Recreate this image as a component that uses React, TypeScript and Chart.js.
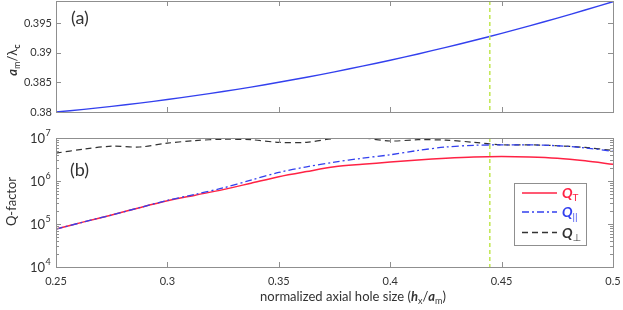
import React, { useEffect, useRef } from 'react';
import { Chart, registerables } from 'chart.js';

Chart.register(...registerables);

// ---------- data ----------
const holeSize = [0.25, 0.2625, 0.275, 0.2875, 0.3, 0.3125, 0.325, 0.3375, 0.35, 0.3625, 0.375, 0.3875, 0.4, 0.4125, 0.425, 0.4375, 0.45, 0.4625, 0.475, 0.4875, 0.5];
const amOverLambdaC = [0.38, 0.38045, 0.38095, 0.3815, 0.3821, 0.38275, 0.38345, 0.3842, 0.38501, 0.38586, 0.38676, 0.38772, 0.38872, 0.38978, 0.39089, 0.39204, 0.39325, 0.39451, 0.39582, 0.39718, 0.39859];
const qTotal = [7.6e4, 1.12e5, 1.62e5, 2.4e5, 3.47e5, 4.68e5, 6.3e5, 8.9e5, 1.26e6, 1.66e6, 2.14e6, 2.45e6, 2.75e6, 3.09e6, 3.39e6, 3.63e6, 3.72e6, 3.63e6, 3.39e6, 2.95e6, 2.45e6];
const qParallel = [7.6e4, 1.12e5, 1.62e5, 2.4e5, 3.55e5, 4.9e5, 6.9e5, 1.05e6, 1.58e6, 2.14e6, 2.75e6, 3.39e6, 4.07e6, 5.13e6, 6.17e6, 6.76e6, 6.92e6, 6.92e6, 6.61e6, 5.89e6, 4.9e6];
const qPerp = [4.47e6, 5.5e6, 6.46e6, 6.17e6, 7.59e6, 8.71e6, 9.33e6, 9.12e6, 7.94e6, 7.94e6, 9.77e6, 1.0e7, 8.51e6, 9.12e6, 8.91e6, 7.94e6, 6.92e6, 6.92e6, 6.61e6, 6.03e6, 5.13e6];
const xTicks = [0.25, 0.3, 0.35, 0.4, 0.45, 0.5];
const topYTicks = [0.38, 0.385, 0.39, 0.395];
const logExponents = [4, 5, 6, 7];
const minorMultipliers = [2, 3, 4, 5, 6, 7, 8, 9];
const markerX = 0.4447;

// ---------- styles ----------
const FONT = 'Lato, "Open Sans", "DejaVu Sans", sans-serif';
const FRAME = '#8f8f8f';
const TEXT = '#333333';
const RED = '#ff2244';
const BLUE = '#3340ee';
const BLACK = '#333333';

type Seg = { t: string; size: number; weight?: string; style?: string; dy?: number; color?: string };

const segFont = (s: Seg) => `${s.style || 'normal'} ${s.weight || 'normal'} ${s.size}px ${FONT}`;

function measureSegs(ctx: CanvasRenderingContext2D, segs: Seg[]) {
  let w = 0;
  for (const s of segs) {
    ctx.font = segFont(s);
    w += ctx.measureText(s.t).width;
  }
  return w;
}

function drawSegs(ctx: CanvasRenderingContext2D, segs: Seg[], x: number, y: number, align: 'left' | 'center' | 'right') {
  const w = measureSegs(ctx, segs);
  let cx = align === 'left' ? x : align === 'center' ? x - w / 2 : x - w;
  ctx.textAlign = 'left';
  ctx.textBaseline = 'alphabetic';
  for (const s of segs) {
    ctx.font = segFont(s);
    ctx.fillStyle = s.color || TEXT;
    ctx.fillText(s.t, cx, y + (s.dy || 0));
    cx += ctx.measureText(s.t).width;
  }
}

function drawRotated(ctx: CanvasRenderingContext2D, segs: Seg[], cx: number, cy: number, shift: number) {
  ctx.save();
  ctx.translate(cx, cy);
  ctx.rotate(-Math.PI / 2);
  drawSegs(ctx, segs, 0, shift, 'center');
  ctx.restore();
}

const fmt = (v: number) => String(+Number(v).toFixed(4));

const frameTicks = {
  id: 'frameTicks',
  afterDatasetsDraw(chart: any, _args: any, opts: any) {
    const { ctx, chartArea: a, scales } = chart;
    const xs = scales.x;
    const ys = scales.y;
    ctx.save();
    // vertical marker
    const gx = xs.getPixelForValue(markerX);
    ctx.strokeStyle = '#c4e85a';
    ctx.lineWidth = 1.6;
    ctx.setLineDash([4, 3]);
    ctx.beginPath();
    ctx.moveTo(gx, a.top);
    ctx.lineTo(gx, a.bottom);
    ctx.stroke();
    ctx.setLineDash([]);
    // ticks
    ctx.strokeStyle = FRAME;
    ctx.lineWidth = 1;
    ctx.beginPath();
    for (const v of xTicks) {
      const px = Math.round(xs.getPixelForValue(v)) + 0.5;
      ctx.moveTo(px, a.top);
      ctx.lineTo(px, a.top + 5);
      ctx.moveTo(px, a.bottom);
      ctx.lineTo(px, a.bottom - 5);
    }
    for (const v of opts.yMajor || []) {
      const py = Math.round(ys.getPixelForValue(v)) + 0.5;
      ctx.moveTo(a.left, py);
      ctx.lineTo(a.left + 5, py);
      ctx.moveTo(a.right, py);
      ctx.lineTo(a.right - 5, py);
    }
    for (const v of opts.yMinor || []) {
      const py = Math.round(ys.getPixelForValue(v)) + 0.5;
      ctx.moveTo(a.left, py);
      ctx.lineTo(a.left + 3, py);
      ctx.moveTo(a.right, py);
      ctx.lineTo(a.right - 3, py);
    }
    ctx.stroke();
    ctx.strokeRect(Math.round(a.left) + 0.5, Math.round(a.top) + 0.5, Math.round(a.right - a.left), Math.round(a.bottom - a.top));
    ctx.restore();
  },
};

const noPad = (scale: any) => {
  scale.paddingTop = 0;
  scale.paddingBottom = 0;
  scale.paddingLeft = 0;
  scale.paddingRight = 0;
};

export default function App() {
  const topRef = useRef<HTMLCanvasElement>(null);
  const botRef = useRef<HTMLCanvasElement>(null);

  useEffect(() => {
    document.body.style.margin = '0';
    const pts = (arr: number[]) => holeSize.map((x, i) => ({ x, y: arr[i] }));

    const topChart = new Chart(topRef.current!, {
      type: 'line',
      data: {
        datasets: [
          {
            label: 'am/λc',
            data: pts(amOverLambdaC),
            borderColor: BLUE,
            borderWidth: 1.4,
            pointRadius: 0,
            tension: 0.3,
          },
        ],
      },
      options: {
        animation: false,
        responsive: false,
        devicePixelRatio: 1,
        layout: { padding: { left: 0, right: 10, top: 1, bottom: 13 } },
        plugins: {
          legend: { display: false },
          tooltip: { enabled: false },
          frameTicks: { yMajor: topYTicks },
        } as any,
        scales: {
          x: { type: 'linear', min: 0.25, max: 0.5, display: false },
          y: {
            type: 'linear',
            min: 0.38,
            max: 0.3987,
            afterBuildTicks: (s: any) => {
              s.ticks = topYTicks.map((v) => ({ value: v }));
            },
            afterFit: (s: any) => {
              s.width = 56;
              noPad(s);
            },
            grid: { display: false, drawTicks: false },
            border: { display: false },
            ticks: {
              padding: 4,
              color: TEXT,
              font: { family: FONT, size: 11 },
              callback: (v: any) => fmt(v),
            },
          },
        },
      },
      plugins: [
        frameTicks,
        {
          id: 'topText',
          afterDraw(chart: any) {
            const ctx = chart.ctx;
            ctx.save();
            drawSegs(ctx, [{ t: '(a)', size: 18 }], 71, 24, 'left');
            drawRotated(
              ctx,
              [
                { t: 'a', size: 13, weight: 'bold', style: 'italic' },
                { t: 'm', size: 9, dy: 3 },
                { t: '/λ', size: 13 },
                { t: 'c', size: 9, weight: 'bold', dy: 3 },
              ],
              12,
              60,
              4.5
            );
            ctx.restore();
          },
        },
      ],
    });

    const minorVals: number[] = [];
    for (const e of logExponents.slice(0, -1)) for (const m of minorMultipliers) minorVals.push(m * Math.pow(10, e));

    const botChart = new Chart(botRef.current!, {
      type: 'line',
      data: {
        datasets: [
          {
            label: 'Q∥',
            data: pts(qParallel),
            borderColor: BLUE,
            borderWidth: 1.3,
            borderDash: [7, 3, 2, 3],
            pointRadius: 0,
            tension: 0.3,
          },
          {
            label: 'QT',
            data: pts(qTotal),
            borderColor: RED,
            borderWidth: 1.5,
            pointRadius: 0,
            tension: 0.3,
          },
          {
            label: 'Q⊥',
            data: pts(qPerp),
            borderColor: BLACK,
            borderWidth: 1.2,
            borderDash: [6, 4],
            pointRadius: 0,
            tension: 0.3,
          },
        ],
      },
      options: {
        animation: false,
        responsive: false,
        devicePixelRatio: 1,
        layout: { padding: { left: 0, right: 10, top: 13, bottom: 0 } },
        plugins: {
          legend: { display: false },
          tooltip: { enabled: false },
          frameTicks: { yMajor: logExponents.map((e) => Math.pow(10, e)), yMinor: minorVals },
        } as any,
        scales: {
          x: {
            type: 'linear',
            min: 0.25,
            max: 0.5,
            afterBuildTicks: (s: any) => {
              s.ticks = xTicks.map((v) => ({ value: v }));
            },
            afterFit: (s: any) => {
              s.height = 43;
              noPad(s);
            },
            grid: { display: false, drawTicks: false },
            border: { display: false },
            ticks: {
              padding: 8,
              autoSkip: false,
              maxRotation: 0,
              color: TEXT,
              font: { family: FONT, size: 11 },
              callback: (v: any) => fmt(v),
            },
          },
          y: {
            type: 'logarithmic',
            min: 1e4,
            max: 1e7,
            afterFit: (s: any) => {
              s.width = 56;
              noPad(s);
            },
            grid: { display: false, drawTicks: false },
            border: { display: false },
            ticks: { display: false },
          },
        },
      },
      plugins: [
        frameTicks,
        {
          id: 'botText',
          afterDraw(chart: any) {
            const ctx = chart.ctx as CanvasRenderingContext2D;
            const ys = chart.scales.y;
            const a = chart.chartArea;
            ctx.save();
            // log tick labels
            for (const e of logExponents) {
              const py = ys.getPixelForValue(Math.pow(10, e));
              ctx.font = `13px ${FONT}`;
              ctx.fillStyle = TEXT;
              ctx.textAlign = 'left';
              ctx.textBaseline = 'middle';
              ctx.fillText('10', 30, py + 1);
              const w = ctx.measureText('10').width;
              ctx.font = `9px ${FONT}`;
              ctx.fillText(String(e), 30 + w + 0.5, py - 5);
            }
            drawSegs(ctx, [{ t: '(b)', size: 18 }], 70, 51, 'left');
            drawRotated(ctx, [{ t: 'Q-factor', size: 13 }], 11, 76.5, 4.5);
            drawSegs(
              ctx,
              [
                { t: 'normalized axial hole size (', size: 13 },
                { t: 'h', size: 13, weight: 'bold', style: 'italic' },
                { t: 'x', size: 9, dy: 3 },
                { t: '/', size: 13 },
                { t: 'a', size: 13, weight: 'bold', style: 'italic' },
                { t: 'm', size: 9, dy: 3 },
                { t: ')', size: 13 },
              ],
              353,
              176,
              'center'
            );
            // legend box
            const bx = a.right - 99;
            const by = 58.5;
            ctx.fillStyle = '#ffffff';
            ctx.fillRect(bx, by, 72, 62);
            ctx.strokeStyle = FRAME;
            ctx.lineWidth = 1;
            ctx.strokeRect(Math.round(bx) + 0.5, by, 72, 62);
            const entries = [
              { color: RED, dash: [] as number[], sub: 'T', y: 68 },
              { color: BLUE, dash: [7, 3, 2, 3], sub: '||', y: 87 },
              { color: BLACK, dash: [6, 4], sub: '⊥', y: 107.5 },
            ];
            for (const en of entries) {
              ctx.strokeStyle = en.color;
              ctx.lineWidth = en.dash.length ? 1.3 : 1.5;
              ctx.setLineDash(en.dash);
              ctx.beginPath();
              ctx.moveTo(bx + 8, en.y);
              ctx.lineTo(bx + 43, en.y);
              ctx.stroke();
              ctx.setLineDash([]);
              drawSegs(
                ctx,
                [
                  { t: 'Q', size: 14, weight: 'bold', style: 'italic', color: en.color },
                  { t: en.sub, size: 10, dy: 3, color: en.color },
                ],
                bx + 48,
                en.y + 5,
                'left'
              );
            }
            ctx.restore();
          },
        },
      ],
    });

    return () => {
      topChart.destroy();
      botChart.destroy();
    };
  }, []);

  return (
    <div style={{ position: 'relative', width: 623, height: 310, background: '#ffffff' }}>
      <canvas ref={topRef} width={623} height={125} style={{ position: 'absolute', left: 0, top: 0, width: 623, height: 125 }} />
      <canvas ref={botRef} width={623} height={185} style={{ position: 'absolute', left: 0, top: 125, width: 623, height: 185 }} />
    </div>
  );
}
